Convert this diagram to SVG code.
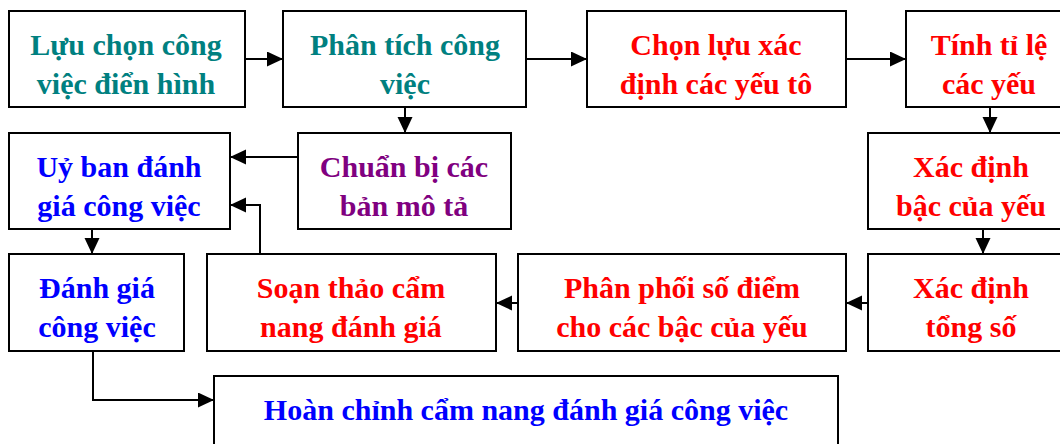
<svg xmlns="http://www.w3.org/2000/svg" width="1060" height="444" viewBox="0 0 1060 444">
<style>
.box{fill:#fff;stroke:#000;stroke-width:2}
text{font-family:"Liberation Serif","Times New Roman",serif;font-weight:bold;font-size:30px;text-anchor:middle}
.teal{fill:#008080}.red{fill:#ff0000}.purple{fill:#800080}.blue{fill:#0000ff}
.con{fill:none;stroke:#000;stroke-width:2;marker-end:url(#ah)}
</style>
<defs>
<marker id="ah" markerUnits="userSpaceOnUse" markerWidth="17" markerHeight="16" refX="16" refY="7.5" orient="auto">
<path d="M0,0 L16,7.5 L0,15 z" fill="#000"/>
</marker>
</defs>
<rect width="1060" height="444" fill="#fff"/>
<g id="n1"><rect class="box" x="9" y="11" width="236" height="96"/><text class="teal" x="126" y="55">Lựu chọn công</text><text class="teal" x="126" y="94">việc điển hình</text></g>
<g id="n2"><rect class="box" x="283" y="11" width="243" height="96"/><text class="teal" x="405" y="55">Phân tích công</text><text class="teal" x="405" y="94">việc</text></g>
<g id="n3"><rect class="box" x="587" y="11" width="259" height="96"/><text class="red" x="716" y="55">Chọn lựu xác</text><text class="red" x="716" y="94">định các yếu tô</text></g>
<g id="n4"><rect class="box" x="906" y="11" width="168" height="96"/><text class="red" x="989" y="55">Tính tỉ lệ</text><text class="red" x="989" y="94">các yếu</text></g>
<g id="n5"><rect class="box" x="9" y="133" width="221" height="96"/><text class="blue" x="119" y="177">Uỷ ban đánh</text><text class="blue" x="119" y="216">giá công việc</text></g>
<g id="n6"><rect class="box" x="298" y="133" width="213" height="96"/><text class="purple" x="404" y="177">Chuẩn bị các</text><text class="purple" x="404" y="216">bản mô tả</text></g>
<g id="n7"><rect class="box" x="868" y="133" width="206" height="96"/><text class="red" x="971" y="177">Xác định</text><text class="red" x="971" y="216">bậc của yếu</text></g>
<g id="n8"><rect class="box" x="9" y="254" width="175" height="97"/><text class="blue" x="97" y="298">Đánh giá</text><text class="blue" x="97" y="337">công việc</text></g>
<g id="n9"><rect class="box" x="207" y="254" width="289" height="97"/><text class="red" x="351" y="298">Soạn thảo cẩm</text><text class="red" x="351" y="337">nang đánh giá</text></g>
<g id="n10"><rect class="box" x="518" y="254" width="328" height="97"/><text class="red" x="682" y="298">Phân phối số điểm</text><text class="red" x="682" y="337">cho các bậc của yếu</text></g>
<g id="n11"><rect class="box" x="868" y="254" width="206" height="97"/><text class="red" x="971" y="298">Xác định</text><text class="red" x="971" y="337">tổng số</text></g>
<g id="n12"><rect class="box" x="214" y="376" width="624" height="80"/><text class="blue" x="526" y="420">Hoàn chỉnh cẩm nang đánh giá công việc</text></g>
<g id="connectors">
<path class="con" d="M245,59 H283"/>
<path class="con" d="M526,59 H587"/>
<path class="con" d="M846,59 H906"/>
<path class="con" d="M405,107 V133"/>
<path class="con" d="M990,107 V133"/>
<path class="con" d="M298,157 H230"/>
<path class="con" d="M983,229 V254"/>
<path class="con" d="M868,303 H846"/>
<path class="con" d="M518,303 H496"/>
<path class="con" d="M260,254 V205 H230"/>
<path class="con" d="M92,229 V254"/>
<path class="con" d="M93,351 V400 H214"/>
</g>
</svg>
